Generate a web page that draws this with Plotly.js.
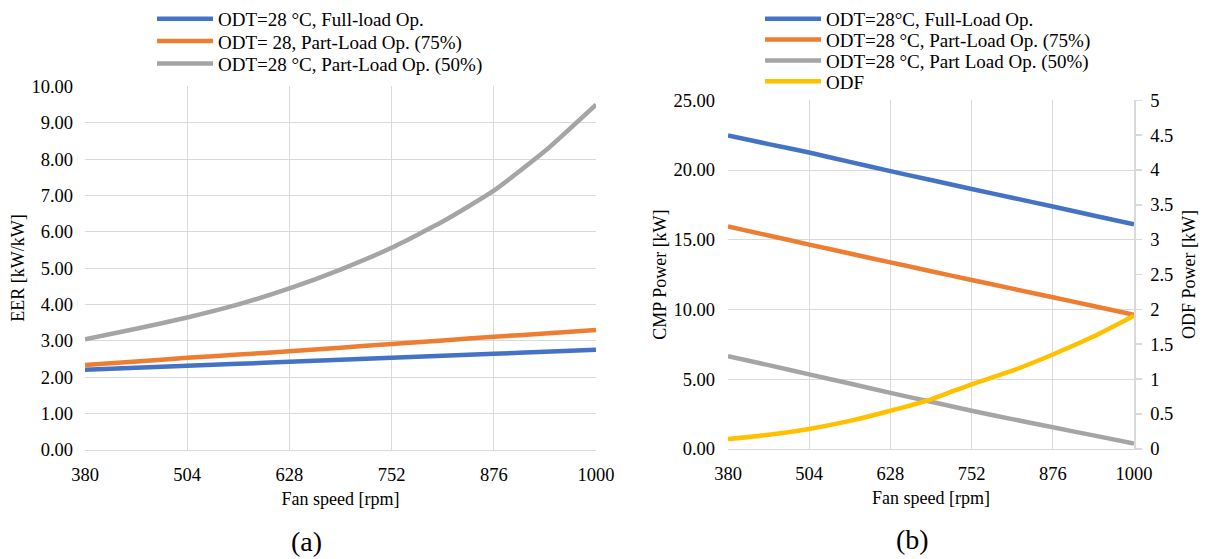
<!DOCTYPE html>
<html><head><meta charset="utf-8">
<script src="https://cdn.plot.ly/plotly-3.0.1.min.js"></script>
<style>html,body{margin:0;padding:0;background:#fff}#c{width:1209px;height:559px}</style>
</head><body><div id="c"></div>
<script>
const fanSpeed = [380, 442, 504, 566, 628, 690, 752, 814, 876, 938, 1000];
const xTicks = [380, 504, 628, 752, 876, 1000];

// (a) EER [kW/kW]
const eerFull   = [2.20, 2.255, 2.31, 2.365, 2.42, 2.475, 2.53, 2.585, 2.64, 2.695, 2.75];
const eerPart75 = [2.33, 2.43, 2.53, 2.62, 2.71, 2.81, 2.91, 3.01, 3.11, 3.20, 3.30];
const eerPart50 = [3.04, 3.33, 3.64, 4.00, 4.44, 4.96, 5.56, 6.28, 7.13, 8.22, 9.50];

// (b) CMP power [kW] (left axis) and ODF power [kW] (right axis)
const cmpFull   = [22.48, 21.86, 21.25, 20.58, 19.92, 19.28, 18.64, 18.01, 17.38, 16.74, 16.10];
const cmpPart75 = [15.95, 15.30, 14.65, 14.01, 13.37, 12.74, 12.11, 11.49, 10.87, 10.24, 9.62];
const cmpPart50 = [6.65, 6.00, 5.34, 4.68, 4.01, 3.37, 2.73, 2.13, 1.54, 0.96, 0.38];
const odfPower  = [0.14, 0.20, 0.285, 0.40, 0.546, 0.71, 0.926, 1.12, 1.353, 1.61, 1.91];

const namesA = ['ODT=28 °C, Full-load Op.', 'ODT= 28, Part-Load Op. (75%)', 'ODT=28 °C, Part-Load Op. (50%)'];
const namesB = ['ODT=28°C, Full-Load Op.', 'ODT=28 °C, Part-Load Op. (75%)', 'ODT=28 °C, Part Load Op. (50%)', 'ODF'];

const C = {blue:'#4472C4', orange:'#ED7D31', gray:'#A5A5A5', yellow:'#FFC000'};
const FONT = '"Liberation Serif", "Times New Roman", serif';
const W = 1209, H = 559;
const px = v => v / W, py = v => 1 - v / H;

function tr(x, y, name, color, xa, ya, leg) {
  return {x, y, name, type:'scatter', mode:'lines', xaxis:xa, yaxis:ya, legend:leg,
    line:{color, width:4.5, shape:'spline', smoothing:0.5}};
}

const data = [
  tr(fanSpeed, eerFull,   namesA[0], C.blue,   'x',  'y',  'legend'),
  tr(fanSpeed, eerPart75, namesA[1], C.orange, 'x',  'y',  'legend2'),
  tr(fanSpeed, eerPart50, namesA[2], C.gray,   'x',  'y',  'legend3'),
  tr(fanSpeed, cmpFull,   namesB[0], C.blue,   'x2', 'y2', 'legend4'),
  tr(fanSpeed, cmpPart75, namesB[1], C.orange, 'x2', 'y2', 'legend5'),
  tr(fanSpeed, cmpPart50, namesB[2], C.gray,   'x2', 'y2', 'legend6'),
  tr(fanSpeed, odfPower,  namesB[3], C.yellow, 'x2', 'y3', 'legend7')
];

const grid = '#d9d9d9';
const tickFont = {family:FONT, size:18.5, color:'#000'};
const titleFont = {family:FONT, size:18, color:'#000'};

function xax(d, anchor) {
  return {domain:d, anchor, range:[380,1000], tickvals:xTicks, ticktext:xTicks.map(String),
    showgrid:true, gridcolor:grid, gridwidth:1, zeroline:false, showline:true, linecolor:grid, linewidth:1.5,
    ticks:'', tickfont:tickFont, ticklabelstandoff:8,
    title:{text:'Fan speed [rpm]', font:titleFont, standoff:8}, fixedrange:true};
}

function leg(x, yc) {
  return {x:px(x), y:py(yc), xanchor:'left', yanchor:'middle', bgcolor:'rgba(0,0,0,0)',
    font:{family:FONT, size:19, color:'#000'}, itemwidth:56, borderwidth:0};
}

const layout = {
  width:W, height:H, margin:{l:0,r:0,t:0,b:0}, paper_bgcolor:'#fff', plot_bgcolor:'#fff',
  font:{family:FONT, color:'#000'},
  xaxis: xax([px(85), px(596)], 'y'),
  yaxis: {domain:[py(449), py(83)], anchor:'x', range:[0,10], dtick:1, tickformat:'.2f',
    showgrid:true, gridcolor:grid, zeroline:false, showline:false, ticks:'', tickfont:tickFont,
    ticklabelstandoff:11, title:{text:'EER [kW/kW]', font:titleFont, standoff:2}, fixedrange:true},
  xaxis2: xax([px(728), px(1134)], 'y2'),
  yaxis2: {domain:[py(448), py(97)], anchor:'x2', range:[0,25], dtick:5, tickformat:'.2f',
    showgrid:true, gridcolor:grid, zeroline:false, showline:false, ticks:'', tickfont:tickFont,
    ticklabelstandoff:12, title:{text:'CMP Power [kW]', font:titleFont, standoff:2}, fixedrange:true},
  yaxis3: {overlaying:'y2', side:'right', anchor:'x2', range:[0,5], dtick:0.5,
    showgrid:false, zeroline:false, showline:true, linecolor:grid, linewidth:1.5,
    ticks:'outside', ticklen:6, tickcolor:grid, tickwidth:1.5, tickfont:tickFont, ticklabelstandoff:5,
    title:{text:'ODF Power [kW]', font:titleFont, standoff:10}, fixedrange:true},
  legend:  leg(152, 15),
  legend2: leg(152, 37.5),
  legend3: leg(152, 60),
  legend4: leg(760, 15),
  legend5: leg(760, 36),
  legend6: leg(760, 57),
  legend7: leg(760, 78),
  annotations: [
    {text:'(a)', x:px(306), y:py(541), xref:'paper', yref:'paper', xanchor:'center', yanchor:'middle', showarrow:false, font:{family:FONT, size:28, color:'#000'}},
    {text:'(b)', x:px(912), y:py(539), xref:'paper', yref:'paper', xanchor:'center', yanchor:'middle', showarrow:false, font:{family:FONT, size:28, color:'#000'}}
  ],
  showlegend:true
};

Plotly.newPlot('c', data, layout, {displayModeBar:false, staticPlot:true});
</script></body></html>
